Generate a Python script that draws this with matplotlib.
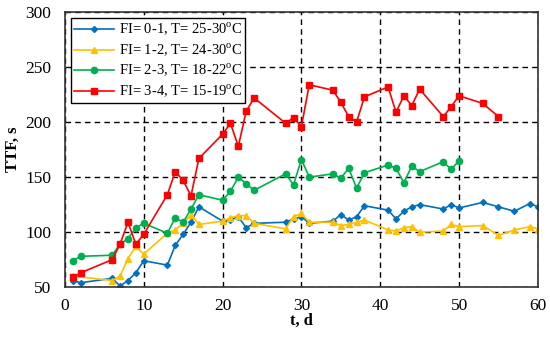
import matplotlib
matplotlib.use("Agg")
import matplotlib.pyplot as plt

plt.rcParams['font.family'] = ['Liberation Serif', 'DejaVu Serif']
plt.rcParams['mathtext.fontset'] = 'custom'
plt.rcParams['mathtext.rm'] = 'Liberation Serif'

# FI = 0-1
t_blue = [1, 2, 6, 7, 8, 9, 10, 13, 14, 15, 16, 17, 20, 21, 22, 23, 24, 28, 29, 30, 31,
          34, 35, 36, 37, 38, 41, 42, 43, 44, 45, 48, 49, 50, 53, 55, 57, 59, 60]
ttf_blue = [56, 54, 58, 51, 56, 63, 74, 70, 88, 98, 109, 123, 110, 111, 114, 104, 108, 109, 112, 114, 108,
            110, 116, 111, 114, 124, 120, 112, 119, 123, 125, 121, 125, 122, 127, 123, 119, 126, 123]

# FI = 1-2
t_yellow = [1, 6, 7, 8, 9, 10, 13, 14, 15, 16, 17, 20, 21, 22, 23, 24, 28, 29, 30, 31,
            34, 35, 36, 37, 38, 41, 42, 43, 44, 45, 48, 49, 50, 53, 55, 57, 59, 60]
ttf_yellow = [60, 56, 60, 76, 87, 80, 99, 102, 108, 116, 107, 110, 113, 115, 115, 108, 103, 114, 117, 109,
              109, 106, 107, 109, 111, 102, 101, 104, 105, 100, 101, 107, 105, 106, 97, 102, 105, 103]

# FI = 2-3
t_green = [1, 2, 6, 7, 8, 9, 10, 13, 14, 15, 16, 17, 20, 21, 22, 23, 24, 28, 29, 30, 31,
           34, 35, 36, 37, 38, 41, 42, 43, 44, 45, 48, 49, 50]
ttf_green = [74, 78, 79, 89, 94, 104, 108, 99, 113, 109, 121, 134, 129, 137, 150, 144, 138, 153, 143, 166, 150,
             153, 149, 158, 140, 154, 161, 158, 145, 160, 155, 164, 157, 165]

# FI = 3-4
t_red = [1, 2, 6, 7, 8, 9, 10, 13, 14, 15, 16, 17, 20, 21, 22, 23, 24, 28, 29, 30, 31,
         34, 35, 36, 37, 38, 41, 42, 43, 44, 45, 48, 49, 50, 53, 55]
ttf_red = [59, 63, 75, 89, 109, 89, 98, 134, 155, 147, 133, 167, 189, 199, 178, 210, 222, 199, 204, 196, 234,
           229, 218, 205, 200, 223, 232, 209, 224, 215, 230, 205, 214, 224, 217, 205]

labels = [r"FI= 0-1, T= 25-30$^{\rm o}$C",
          r"FI= 1-2, T= 24-30$^{\rm o}$C",
          r"FI= 2-3, T= 18-22$^{\rm o}$C",
          r"FI= 3-4, T= 15-19$^{\rm o}$C"]


def main():
    fig = plt.figure(figsize=(5.5, 3.37), dpi=100)
    ax = fig.add_axes([0.118, 0.148, 0.860, 0.816])

    ax.plot(t_blue, ttf_blue, color='#0070C0', marker='D', markersize=3, lw=1.2, label=labels[0])
    ax.plot(t_yellow, ttf_yellow, color='#FFC000', marker='^', markersize=4.5, lw=1.2, label=labels[1])
    ax.plot(t_green, ttf_green, color='#00B050', marker='o', markersize=4.5, lw=1.2, label=labels[2])
    ax.plot(t_red, ttf_red, color='#FF0000', marker='s', markersize=5, lw=1.2, label=labels[3])

    ax.set_xlim(0, 60)
    ax.set_ylim(50, 300)
    ax.set_xticks(range(0, 61, 10))
    ax.set_yticks(range(50, 301, 50))
    ax.grid(True, color='black', linestyle=(0, (4, 3)), linewidth=1)
    ax.tick_params(direction='in', labelsize=12.5, length=0)
    ax.tick_params(axis='y', pad=10)
    ax.tick_params(axis='x', pad=8)
    for s in ax.spines.values():
        s.set_linewidth(1.2)
        s.set_color('#333333')

    ax.set_xlabel("t, d", fontsize=12, fontweight='bold', labelpad=-1)
    ax.set_ylabel("TTF, s", fontsize=12, fontweight='bold', labelpad=3)

    leg = ax.legend(loc='upper left', fontsize=10.5, fancybox=False, framealpha=1,
                    edgecolor='black', handlelength=2.8, borderpad=0.2, labelspacing=0.25,
                    handletextpad=0.3, borderaxespad=0.4)
    leg.get_frame().set_linewidth(1.0)

    fig.savefig("out.png", dpi=100)


if __name__ == "__main__":
    main()
